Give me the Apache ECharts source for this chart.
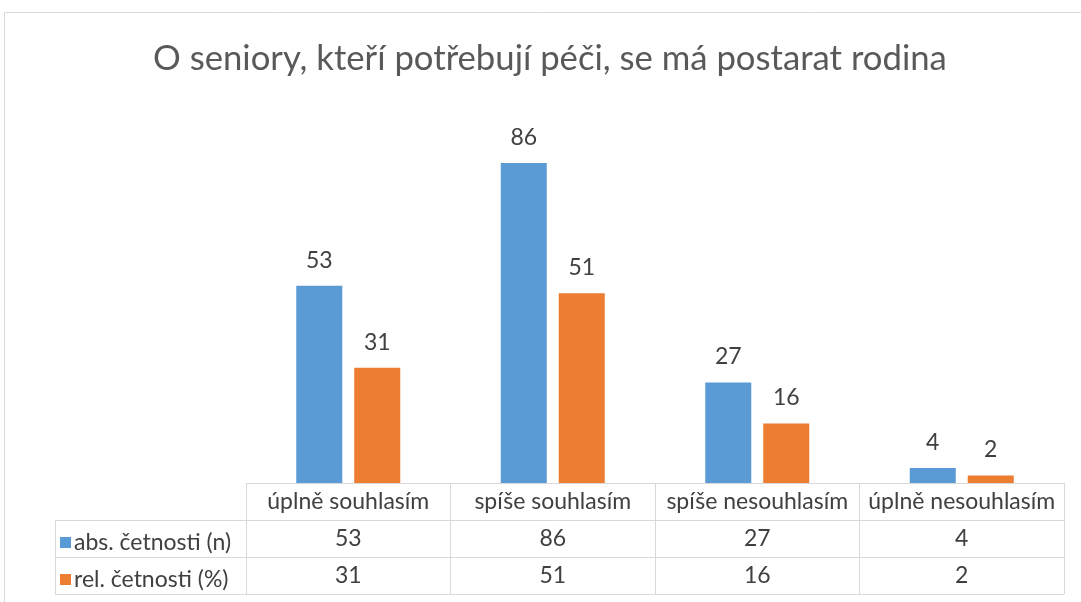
<!DOCTYPE html>
<html><head><meta charset="utf-8">
<script src="https://cdn.jsdelivr.net/npm/echarts@6/dist/echarts.min.js"></script>
<style>html,body{margin:0;padding:0;background:#fff}#c{width:1081px;height:602px}</style>
</head><body><div id="c"></div>
<script>
const categories = ['úplně souhlasím', 'spíše souhlasím', 'spíše nesouhlasím', 'úplně nesouhlasím'];
const absValues = [53, 86, 27, 4];
const relValues = [31, 51, 16, 2];
const seriesNames = ['abs. četnosti (n)', 'rel. četnosti (%)'];
const titleText = 'O seniory, kteří potřebují péči, se má postarat rodina';

const FONT = 'Lato, "Open Sans", sans-serif';
const LINE = '#d9d9d9';
const TXT = '#404040';
const FS = 23;
const ROW = 37;
const TABLE_LEFT = 55;

const chart = echarts.init(document.getElementById('c'));
const option = {
  animation: false,
  textStyle: { fontFamily: FONT },
  title: {
    text: titleText, left: 148, top: 36,
    textStyle: { fontFamily: FONT, fontSize: 34.7, fontWeight: 'normal', color: '#595959' }
  },
  legend: {
    data: seriesNames, orient: 'vertical', left: 60, top: 531, padding: 0,
    icon: 'rect', itemWidth: 11, itemHeight: 11, itemGap: 14,
    textStyle: { fontFamily: FONT, fontSize: FS, color: TXT, lineHeight: 23, padding: [0,0,0,-2] },
    selectedMode: false
  },
  grid: { left: 246, right: 17, top: 111, bottom: 119, containLabel: false },
  xAxis: [
    { type: 'category', data: categories, position: 'bottom',
      axisLine: { show: true, lineStyle: { color: LINE, width: 1 } },
      axisTick: { show: true, interval: 0, length: ROW * 3, inside: false, lineStyle: { color: LINE, width: 1 } },
      axisLabel: { interval: 0, fontFamily: FONT, fontSize: FS, color: TXT, margin: 7 } },
    { type: 'category', data: absValues.map(String), position: 'bottom', offset: ROW,
      axisLine: { show: false }, axisTick: { show: false },
      axisLabel: { interval: 0, fontFamily: FONT, fontSize: FS, color: TXT, margin: 7 } },
    { type: 'category', data: relValues.map(String), position: 'bottom', offset: ROW * 2,
      axisLine: { show: false }, axisTick: { show: false },
      axisLabel: { interval: 0, fontFamily: FONT, fontSize: FS, color: TXT, margin: 7 } }
  ],
  yAxis: { type: 'value', min: 0, max: 100, interval: 10, show: false, splitLine: { show: false } },
  series: [
    { name: seriesNames[0], type: 'bar', data: absValues, xAxisIndex: 0,
      barWidth: '22.5%', barGap: '26%',
      itemStyle: { color: '#5b9bd5' },
      label: { show: true, position: 'top', distance: 14, fontFamily: FONT, fontSize: FS, color: TXT } },
    { name: seriesNames[1], type: 'bar', data: relValues, xAxisIndex: 0,
      barWidth: '22.5%', barGap: '26%',
      itemStyle: { color: '#ed7d31' },
      label: { show: true, position: 'top', distance: 14, fontFamily: FONT, fontSize: FS, color: TXT } }
  ]
};
chart.setOption(option);

// table lines derived from the category axis
const c0 = chart.convertToPixel({ xAxisIndex: 0 }, categories[0]);
const c1 = chart.convertToPixel({ xAxisIndex: 0 }, categories[1]);
const cl = chart.convertToPixel({ xAxisIndex: 0 }, categories[categories.length - 1]);
const band = c1 - c0;
const right = cl + band / 2;
const base = chart.convertToPixel({ yAxisIndex: 0 }, 0);
const g = [];
for (let r = 1; r <= 3; r++) {
  const y = Math.round(base + ROW * r) + 0.5;
  g.push({ type: 'line', shape: { x1: TABLE_LEFT, y1: y, x2: right, y2: y }, style: { stroke: LINE, lineWidth: 1 } });
}
g.push({ type: 'line', shape: { x1: TABLE_LEFT + 0.5, y1: base + ROW, x2: TABLE_LEFT + 0.5, y2: base + ROW * 3 }, style: { stroke: LINE, lineWidth: 1 } });
g.push({ type: 'rect', shape: { x: 4.5, y: 12.5, width: 1200, height: 700 }, style: { fill: 'none', stroke: LINE, lineWidth: 1 }, silent: true });
chart.setOption({ graphic: g });
</script></body></html>
